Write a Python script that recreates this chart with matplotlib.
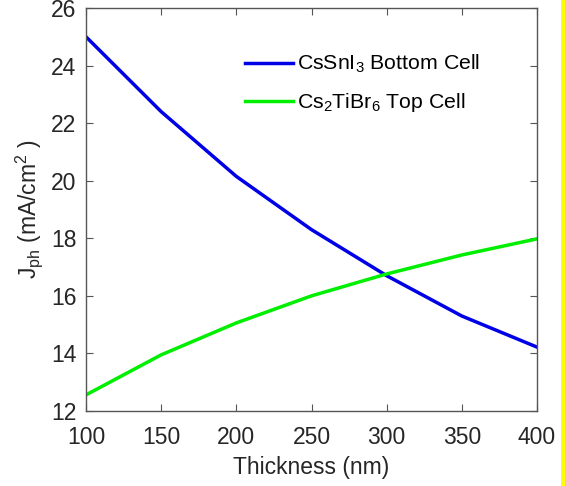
import matplotlib
matplotlib.use("Agg")
import matplotlib.pyplot as plt
from matplotlib.patches import Rectangle

thickness = [100, 150, 200, 250, 300, 350, 400]
bottom_cell = [25.0, 22.4, 20.15, 18.3, 16.7, 15.3, 14.22]
top_cell = [12.56, 13.95, 15.06, 16.0, 16.76, 17.42, 17.98]
xticks = [100, 150, 200, 250, 300, 350, 400]
yticks = [12, 14, 16, 18, 20, 22, 24, 26]

plt.rcParams['font.family'] = ['Liberation Sans', 'DejaVu Sans']
plt.rcParams['mathtext.fontset'] = 'custom'
plt.rcParams['mathtext.rm'] = 'Liberation Sans'
plt.rcParams['mathtext.it'] = 'Liberation Sans'
plt.rcParams['mathtext.default'] = 'regular'

fig = plt.figure(figsize=(5.65, 4.86), dpi=100)
W, H = 565, 486
ax = fig.add_axes([86 / W, 1 - 411 / H, (537 - 86) / W, (411 - 8) / H])

ax.plot(thickness, bottom_cell, color='#0000e6', lw=2.5, label='CsSnI$_3$ Bottom Cell')
ax.plot(thickness, top_cell, color='#00ee00', lw=2.5, label='Cs$_2$TiBr$_6$ Top Cell')

ax.set_xlim(100, 400)
ax.set_ylim(12, 26)
ax.set_xticks(xticks)
ax.set_yticks(yticks)
gray = '#555555'
txt = '#262626'
for s in ax.spines.values():
    s.set_color(gray)
    s.set_linewidth(1.0)
ax.tick_params(direction='in', top=True, right=True, length=5, color=gray,
               labelsize=16.5, labelcolor=txt)
ax.tick_params(axis='x', pad=11)
ax.tick_params(axis='y', pad=7)
ax.set_xlabel('Thickness (nm)', fontsize=16.5, color=txt, labelpad=5)
ax.set_ylabel('J$_{ph}$ (mA/cm$^2$ )', fontsize=16.5, color=txt, labelpad=4)

ax.legend(loc='upper left', bbox_to_anchor=((245 - 86) / 451, 0.888), frameon=False,
          fontsize=15.3, handlelength=2.25, handletextpad=0.2, labelspacing=0.74,
          borderpad=0, borderaxespad=0)

fig.patches.append(Rectangle((561 / W, 0), 4 / W, 1, transform=fig.transFigure,
                             facecolor='#ffff00', edgecolor='none'))

fig.savefig('out.png', dpi=100)
